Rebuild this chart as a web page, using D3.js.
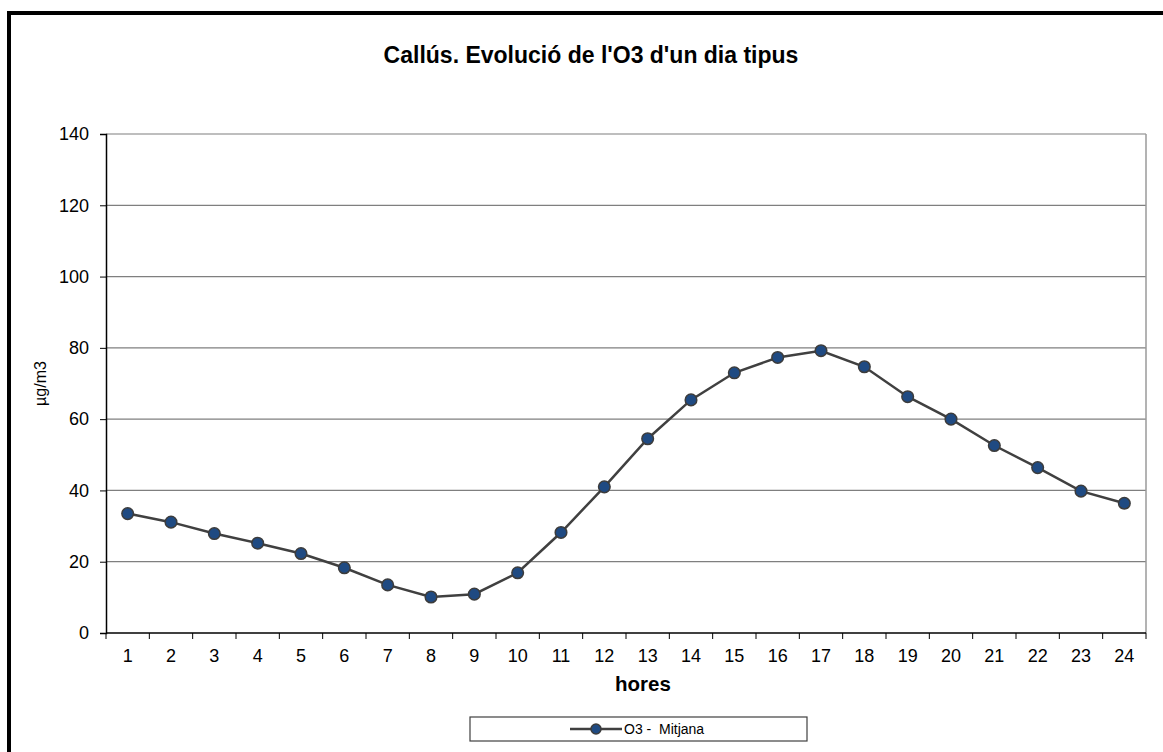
<!DOCTYPE html>
<html>
<head>
<meta charset="utf-8">
<script src="https://cdn.jsdelivr.net/npm/d3@7"></script>
<style>
	body { margin: 0; background: #fff; }
	svg text { font-family: Arial, "Liberation Sans", sans-serif; fill: #000; }
	.axis path, .axis line { stroke: #000; }
</style>
</head>
<body>
<div id="chart"></div>
<script>

// hours of the day and mean O3 values (µg/m3)
let hours = d3.range(1, 25).map(String);
let o3Values = [33.5, 31.1, 27.9, 25.2, 22.3, 18.3, 13.5, 10.1, 10.9, 16.9, 28.2, 41.0,
	54.5, 65.4, 73.0, 77.3, 79.2, 74.7, 66.3, 60.0, 52.6, 46.4, 39.8, 36.4];
let yTicks = [0, 20, 40, 60, 80, 100, 120, 140];

let chartTitle = "Callús. Evolució de l'O3 d'un dia tipus";
let seriesName = "O3 -  Mitjana";

let W = 1163, H = 752;
let margin = {top: 134, right: 17, bottom: 119, left: 106};
let width = W - margin.left - margin.right;
let height = H - margin.top - margin.bottom;

let svg = d3.select("#chart").append("svg")
	.attr("width", W)
	.attr("height", H);

// outer frame
svg.append("rect")
	.attr("x", 9).attr("y", 13)
	.attr("width", W).attr("height", H)
	.attr("fill", "none")
	.attr("stroke", "#000")
	.attr("stroke-width", 4);

svg.append("text")
	.attr("x", 591).attr("y", 63)
	.attr("text-anchor", "middle")
	.style("font-size", "23px")
	.style("font-weight", "bold")
	.text(chartTitle);

let g = svg.append("g")
	.attr("transform", "translate(" + margin.left + "," + margin.top + ")");

let x = d3.scaleBand()
	.domain(hours)
	.range([0, width]);

let y = d3.scaleLinear()
	.domain([0, 140])
	.range([height, 0]);

// gridlines
g.selectAll("line.grid")
	.data(yTicks.filter(d => d > 0))
	.enter()
	.append("line")
	.attr("class", "grid")
	.attr("x1", 0).attr("x2", width)
	.attr("y1", d => y(d)).attr("y2", d => y(d))
	.attr("stroke", "#7f7f7f")
	.attr("stroke-width", 1.2);

// right border of plot
g.append("line")
	.attr("x1", width).attr("x2", width)
	.attr("y1", 0).attr("y2", height)
	.attr("stroke", "#9a9a9a")
	.attr("stroke-width", 1.5);

let yAxis = d3.axisLeft(y).tickValues(yTicks).tickSize(6).tickPadding(11);
g.append("g").attr("class", "axis").call(yAxis)
	.attr("font-size", 18)
	.attr("font-family", null)
	.call(a => a.select(".domain").attr("stroke-width", 1.5));

let xAxis = d3.axisBottom(x).tickSize(0).tickPadding(16);
let xg = g.append("g").attr("class", "axis")
	.attr("transform", "translate(0," + height + ")")
	.call(xAxis)
	.attr("font-size", 18)
	.attr("font-family", null);
xg.select(".domain").attr("d", "M0,0H" + width).attr("stroke-width", 1.5);

// tick marks at band boundaries
xg.selectAll("line.bnd")
	.data(hours.concat(["end"]))
	.enter()
	.append("line")
	.attr("class", "bnd")
	.attr("x1", (d, i) => i * x.step()).attr("x2", (d, i) => i * x.step())
	.attr("y1", 0).attr("y2", 6)
	.attr("stroke", "#000");

// axis titles
svg.append("text")
	.attr("transform", "translate(46," + (margin.top + height / 2) + ") rotate(-90)")
	.attr("text-anchor", "middle")
	.style("font-size", "16px")
	.text("µg/m3");

svg.append("text")
	.attr("x", 643).attr("y", 691)
	.attr("text-anchor", "middle")
	.style("font-size", "20.5px")
	.style("font-weight", "bold")
	.text("hores");

// series
let line = d3.line()
	.x((d, i) => x(hours[i]) + x.bandwidth() / 2)
	.y(d => y(d));

g.append("path")
	.datum(o3Values)
	.attr("d", line)
	.attr("fill", "none")
	.attr("stroke", "#404040")
	.attr("stroke-width", 2.5);

g.selectAll("circle.pt")
	.data(o3Values)
	.enter()
	.append("circle")
	.attr("class", "pt")
	.attr("cx", (d, i) => x(hours[i]) + x.bandwidth() / 2)
	.attr("cy", d => y(d))
	.attr("r", 5.8)
	.attr("fill", "#1f4a82")
	.attr("stroke", "#3c3c3c")
	.attr("stroke-width", 1.5);

// legend
let lg = svg.append("g").attr("transform", "translate(470,717)");
lg.append("rect")
	.attr("width", 337).attr("height", 24)
	.attr("fill", "#fff")
	.attr("stroke", "#404040")
	.attr("stroke-width", 1.2);
lg.append("line")
	.attr("x1", 100).attr("x2", 152)
	.attr("y1", 12).attr("y2", 12)
	.attr("stroke", "#404040")
	.attr("stroke-width", 2.5);
lg.append("circle")
	.attr("cx", 126).attr("cy", 12).attr("r", 5)
	.attr("fill", "#1f4a82")
	.attr("stroke", "#3c3c3c")
	.attr("stroke-width", 1.5);
lg.append("text")
	.attr("x", 154).attr("y", 17)
	.style("font-size", "14px")
	.style("white-space", "pre")
	.text(seriesName);

</script>
</body>
</html>
